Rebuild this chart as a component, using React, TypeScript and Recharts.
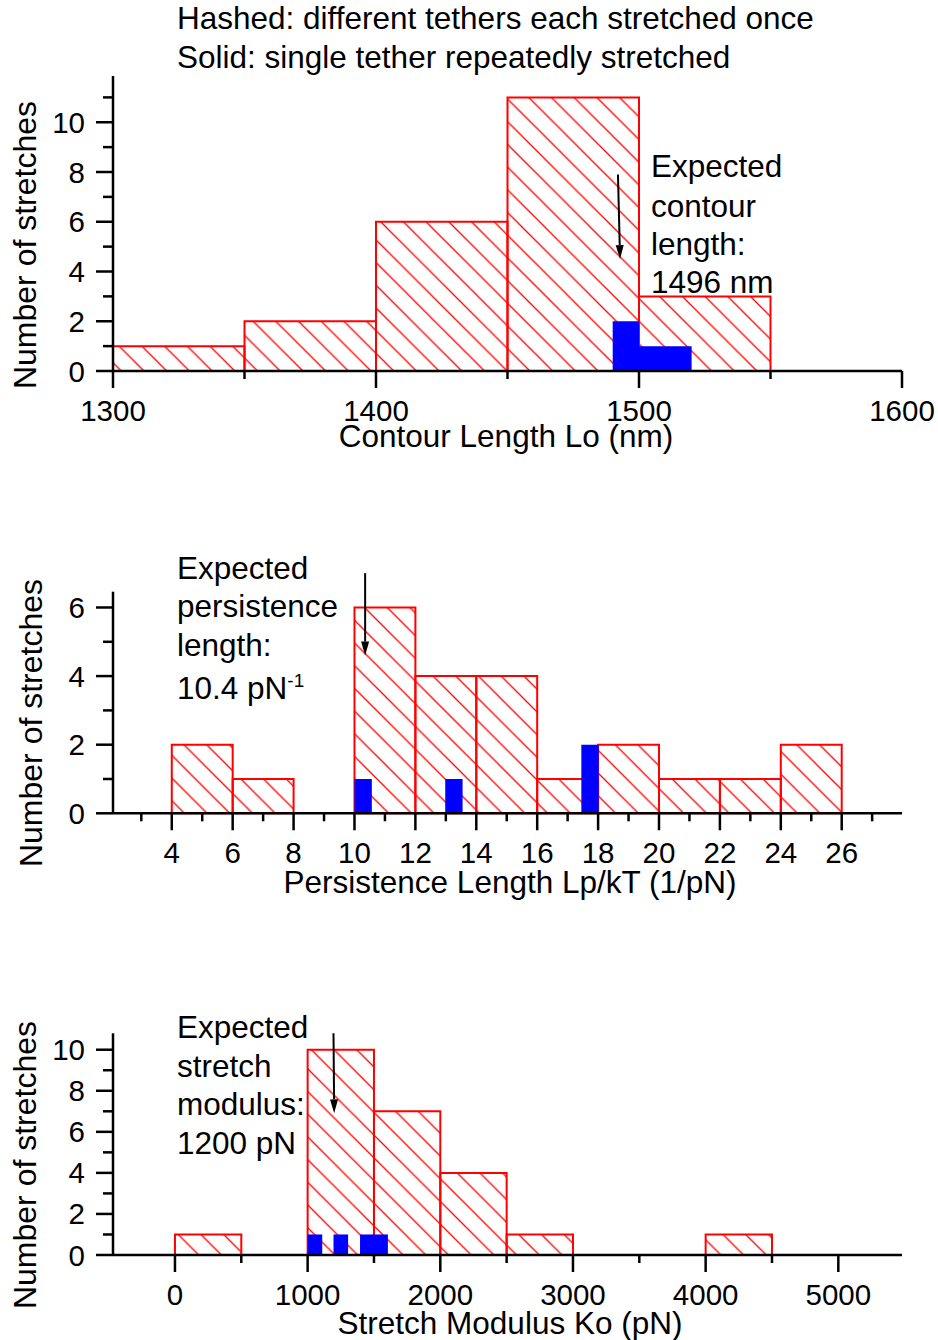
import React from 'react'
import { ComposedChart, XAxis, YAxis, Line, ReferenceArea, ReferenceLine } from 'recharts'

type Bin = { from: number; to: number; count: number }

// contour length (nm)
const contourHashed: Bin[] = [
  { from: 1300, to: 1350, count: 1 },
  { from: 1350, to: 1400, count: 2 },
  { from: 1400, to: 1450, count: 6 },
  { from: 1450, to: 1500, count: 11 },
  { from: 1500, to: 1550, count: 3 }
]
const contourSolid: Bin[] = [
  { from: 1490, to: 1500, count: 2 },
  { from: 1500, to: 1520, count: 1 }
]
const contourXTicks = [1300, 1350, 1400, 1450, 1500, 1550, 1600]
const contourYTicks = [0, 1, 2, 3, 4, 5, 6, 7, 8, 9, 10, 11]

// persistence length (1/pN)
const persistHashed: Bin[] = [
  { from: 4, to: 6, count: 2 },
  { from: 6, to: 8, count: 1 },
  { from: 10, to: 12, count: 6 },
  { from: 12, to: 14, count: 4 },
  { from: 14, to: 16, count: 4 },
  { from: 16, to: 18, count: 1 },
  { from: 18, to: 20, count: 2 },
  { from: 20, to: 22, count: 1 },
  { from: 22, to: 24, count: 1 },
  { from: 24, to: 26, count: 2 }
]
const persistSolid: Bin[] = [
  { from: 10, to: 10.57, count: 1 },
  { from: 12.98, to: 13.55, count: 1 },
  { from: 17.45, to: 18.02, count: 2 }
]
const persistXTicks = [3, 4, 5, 6, 7, 8, 9, 10, 11, 12, 13, 14, 15, 16, 17, 18, 19, 20, 21, 22, 23, 24, 25, 26, 27]
const persistYTicks = [0, 1, 2, 3, 4, 5, 6]

// stretch modulus (pN)
const modulusHashed: Bin[] = [
  { from: 0, to: 500, count: 1 },
  { from: 1000, to: 1500, count: 10 },
  { from: 1500, to: 2000, count: 7 },
  { from: 2000, to: 2500, count: 4 },
  { from: 2500, to: 3000, count: 1 },
  { from: 4000, to: 4500, count: 1 }
]
const modulusSolid: Bin[] = [
  { from: 1000, to: 1110, count: 1 },
  { from: 1195, to: 1305, count: 1 },
  { from: 1395, to: 1605, count: 1 }
]
const modulusXTicks = [0, 500, 1000, 1500, 2000, 2500, 3000, 3500, 4000, 4500, 5000]
const modulusYTicks = [0, 1, 2, 3, 4, 5, 6, 7, 8, 9, 10]

// expected-value arrows: [start, tip]
const contourArrow = [{ x: 1492, y: 7.9 }, { x: 1492.8, y: 4.5 }]
const persistArrow = [{ x: 10.35, y: 7.0 }, { x: 10.35, y: 4.6 }]
const modulusArrow = [{ x: 1195, y: 10.8 }, { x: 1200, y: 6.9 }]

const FONT = '"Liberation Sans", Arial, Helvetica, sans-serif'
const W = 938

const isMultiple = (v: number, step: number) => Math.abs(v / step - Math.round(v / step)) < 1e-6

const makeXTick = (labelEvery: number) => (props: any) => {
  const { x, y, payload } = props
  const v = payload.value
  const major = isMultiple(v, labelEvery)
  return (
    <g>
      <line x1={x} x2={x} y1={y} y2={y + (major ? 17 : 8)} stroke="#000" strokeWidth={2.5} />
      {major && (
        <text x={x} y={y + 50} textAnchor="middle" fontSize={29.5} fontFamily={FONT} fill="#000">
          {v}
        </text>
      )}
    </g>
  )
}

const YTick = (props: any) => {
  const { x, y, payload } = props
  const v = payload.value
  const major = isMultiple(v, 2)
  return (
    <g>
      <line x1={x - (major ? 17 : 10)} x2={x} y1={y} y2={y} stroke="#000" strokeWidth={2.5} />
      {major && (
        <text x={x - 28} y={y + 10.5} textAnchor="end" fontSize={29.5} fontFamily={FONT} fill="#000">
          {v}
        </text>
      )}
    </g>
  )
}

const Arrow = (props: any) => {
  const { x1, y1, x2, y2 } = props
  const dx = x2 - x1
  const dy = y2 - y1
  const len = Math.sqrt(dx * dx + dy * dy) || 1
  const ux = dx / len
  const uy = dy / len
  const hl = 14
  const hw = 4
  const bx = x2 - ux * hl
  const by = y2 - uy * hl
  return (
    <g>
      <line x1={x1} y1={y1} x2={bx} y2={by} stroke="#000" strokeWidth={2} />
      <polygon
        points={`${x2},${y2} ${bx - uy * hw},${by + ux * hw} ${bx + uy * hw},${by - ux * hw}`}
        fill="#000"
      />
    </g>
  )
}

interface PanelProps {
  top: number
  height: number
  plotTop: number
  plotBottom: number
  xDomain: [number, number]
  yDomain: [number, number]
  xTicks: number[]
  yTicks: number[]
  labelEvery: number
  hashed: Bin[]
  solid: Bin[]
  arrow: { x: number; y: number }[]
}

const HistPanel: React.FC<PanelProps> = ({
  top, height, plotTop, plotBottom, xDomain, yDomain, xTicks, yTicks, labelEvery, hashed, solid, arrow
}) => {
  const data = hashed.map(b => ({ mid: (b.from + b.to) / 2, count: b.count }))
  return (
    <div style={{ position: 'absolute', left: 0, top }}>
      <ComposedChart
        width={W}
        height={height}
        data={data}
        margin={{ top: plotTop - top, right: 36, bottom: 0, left: 0 }}
      >
        {hashed.map((b, i) => (
          <ReferenceArea
            key={`h-${i}`}
            x1={b.from}
            x2={b.to}
            y1={0}
            y2={b.count}
            fill="url(#hatch)"
            fillOpacity={1}
            stroke="#ff0000"
            strokeWidth={2}
          />
        ))}
        {solid.map((b, i) => (
          <ReferenceArea
            key={`s-${i}`}
            x1={b.from}
            x2={b.to}
            y1={0}
            y2={b.count}
            fill="#0000ff"
            fillOpacity={1}
            stroke="none"
          />
        ))}
        <ReferenceLine segment={arrow} shape={Arrow} ifOverflow="visible" />
        <Line
          dataKey="count"
          stroke="none"
          dot={false}
          activeDot={false}
          legendType="none"
          isAnimationActive={false}
        />
        <XAxis
          type="number"
          dataKey="mid"
          domain={xDomain}
          allowDataOverflow
          ticks={xTicks}
          interval={0}
          height={top + height - plotBottom}
          tickSize={0}
          tickMargin={0}
          tickLine={false}
          axisLine={{ stroke: '#000', strokeWidth: 2.5 }}
          tick={makeXTick(labelEvery)}
        />
        <YAxis
          type="number"
          domain={yDomain}
          allowDataOverflow
          ticks={yTicks}
          interval={0}
          width={113}
          tickSize={0}
          tickMargin={0}
          tickLine={false}
          axisLine={{ stroke: '#000', strokeWidth: 2.5 }}
          tick={YTick}
        />
      </ComposedChart>
    </div>
  )
}

const T = (p: { x: number; y: number; size?: number; anchor?: string; children: React.ReactNode; rotate?: boolean }) => (
  <text
    x={p.x}
    y={p.y}
    fontSize={p.size ?? 31.5}
    fontFamily={FONT}
    fill="#000"
    textAnchor={p.anchor ?? 'start'}
    transform={p.rotate ? `rotate(-90 ${p.x} ${p.y})` : undefined}
  >
    {p.children}
  </text>
)

export default function App() {
  return (
    <div style={{ position: 'absolute', left: 0, top: 0, width: W, height: 1340, background: '#fff', overflow: 'hidden' }}>
      <HistPanel
        top={0}
        height={460}
        plotTop={76}
        plotBottom={371}
        xDomain={[1300, 1600]}
        yDomain={[0, 11.86]}
        xTicks={contourXTicks}
        yTicks={contourYTicks}
        labelEvery={100}
        hashed={contourHashed}
        solid={contourSolid}
        arrow={contourArrow}
      />
      <HistPanel
        top={470}
        height={440}
        plotTop={591.7}
        plotBottom={813.3}
        xDomain={[2.07, 27.98]}
        yDomain={[0, 6.46]}
        xTicks={persistXTicks}
        yTicks={persistYTicks}
        labelEvery={2}
        hashed={persistHashed}
        solid={persistSolid}
        arrow={persistArrow}
      />
      <HistPanel
        top={920}
        height={420}
        plotTop={1033.3}
        plotBottom={1255}
        xDomain={[-467, 5480]}
        yDomain={[0, 10.8]}
        xTicks={modulusXTicks}
        yTicks={modulusYTicks}
        labelEvery={1000}
        hashed={modulusHashed}
        solid={modulusSolid}
        arrow={modulusArrow}
      />
      <svg
        width={W}
        height={1340}
        style={{ position: 'absolute', left: 0, top: 0, pointerEvents: 'none' }}
      >
        <defs>
          <pattern id="hatch" patternUnits="userSpaceOnUse" width={22.7} height={22.7}>
            <path d="M0,0 L22.7,22.7 M-2,20.7 L2,24.7 M20.7,-2 L24.7,2" stroke="#ff0000" strokeWidth={1.3} />
          </pattern>
        </defs>
        <T x={177} y={29}>Hashed: different tethers each stretched once</T>
        <T x={177} y={68}>Solid: single tether repeatedly stretched</T>

        <T x={36} y={245} size={32} anchor="middle" rotate>Number of stretches</T>
        <T x={506} y={447} anchor="middle">Contour Length Lo (nm)</T>
        <T x={651} y={177}>Expected</T>
        <T x={651} y={217}>contour</T>
        <T x={651} y={255}>length:</T>
        <T x={651} y={293}>1496 nm</T>

        <T x={42} y={723} size={32} anchor="middle" rotate>Number of stretches</T>
        <T x={510} y={893} anchor="middle">Persistence Length Lp/kT (1/pN)</T>
        <T x={177} y={579}>Expected</T>
        <T x={177} y={617}>persistence</T>
        <T x={177} y={656}>length:</T>
        <text x={177} y={699} fontSize={31.5} fontFamily={FONT} fill="#000">
          10.4 pN
          <tspan dy={-12} fontSize={19}>-1</tspan>
        </text>

        <T x={36} y={1165} size={32} anchor="middle" rotate>Number of stretches</T>
        <T x={510} y={1334} anchor="middle">Stretch Modulus Ko (pN)</T>
        <T x={177} y={1038}>Expected</T>
        <T x={177} y={1077}>stretch</T>
        <T x={177} y={1115}>modulus:</T>
        <T x={177} y={1154}>1200 pN</T>
      </svg>
    </div>
  )
}
